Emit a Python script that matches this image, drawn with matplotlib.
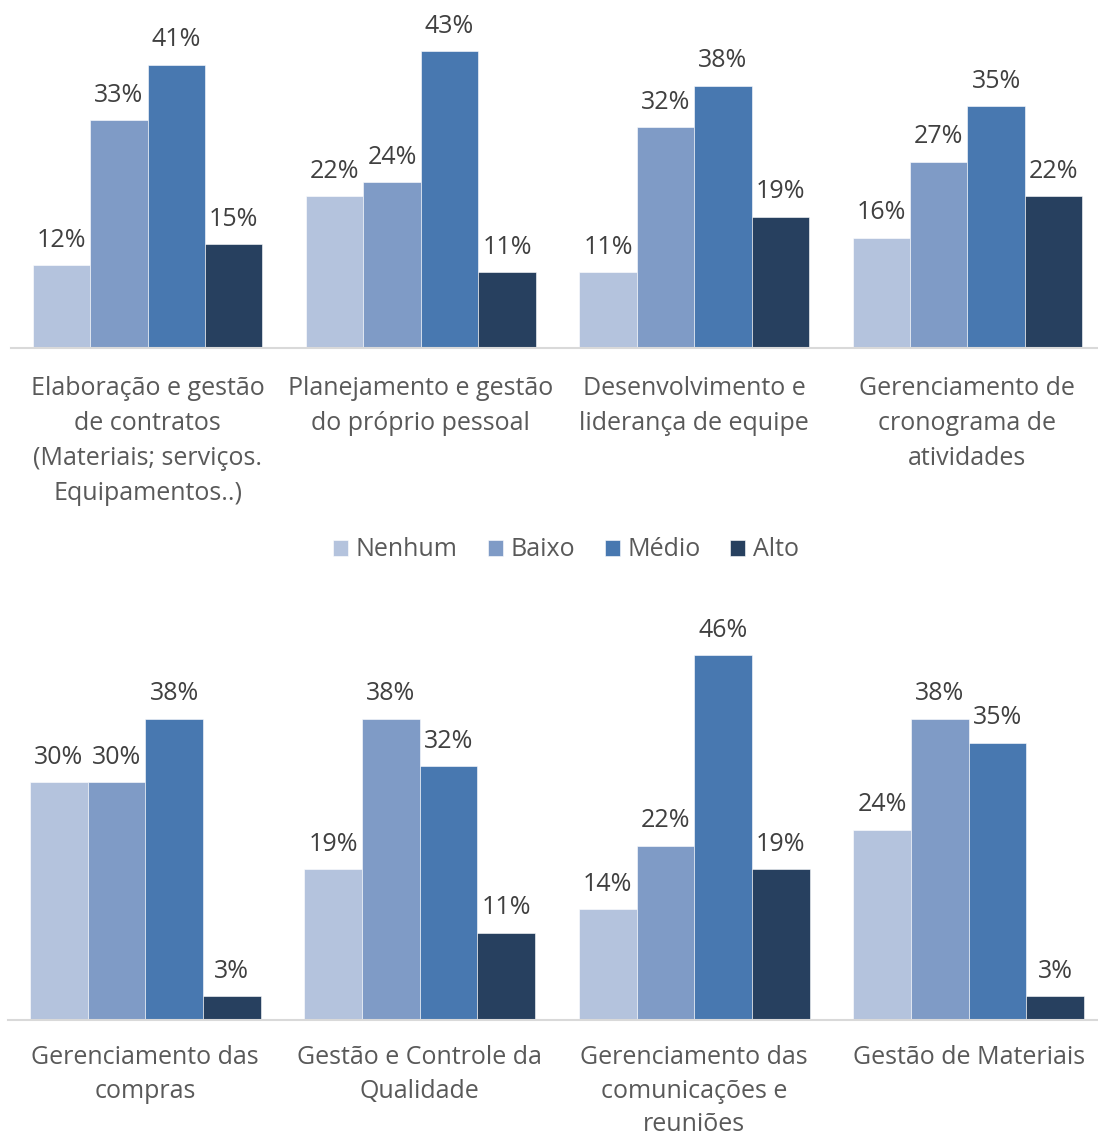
import numpy as np
import matplotlib.pyplot as plt

plt.rcParams['font.family'] = ['Open Sans', 'DejaVu Sans']

series = ['Nenhum', 'Baixo', 'Médio', 'Alto']
colors = ['#B4C3DD', '#7F9BC6', '#4878B0', '#27405F']

top_cats = ['Elaboração e gestão\nde contratos\n(Materiais; serviços.\nEquipamentos..)',
            'Planejamento e gestão\ndo próprio pessoal',
            'Desenvolvimento e\nliderança de equipe',
            'Gerenciamento de\ncronograma de\natividades']
top_nenhum = [12, 22, 11, 16]
top_baixo = [33, 24, 32, 27]
top_medio = [41, 43, 38, 35]
top_alto = [15, 11, 19, 22]

bot_cats = ['Gerenciamento das\ncompras',
            'Gestão e Controle da\nQualidade',
            'Gerenciamento das\ncomunicações e\nreuniões',
            'Gestão de Materiais']
bot_nenhum = [30, 19, 14, 24]
bot_baixo = [30, 38, 22, 38]
bot_medio = [38, 32, 46, 35]
bot_alto = [3, 11, 19, 3]

W, H = 1098, 1140
fig = plt.figure(figsize=(W / 100, H / 100), dpi=100)


def px_axes(left, top, right, bottom):
    return fig.add_axes([left / W, 1 - bottom / H, (right - left) / W, (bottom - top) / H])


def draw(ax, cats, data, ymax, spacing, pad):
    x = np.arange(len(cats))
    bw = 0.21
    for i, (vals, col) in enumerate(zip(data, colors)):
        bars = ax.bar(x + (i - 1.5) * bw, vals, bw, color=col, label=series[i],
                      edgecolor='white', linewidth=0.4)
        ax.bar_label(bars, labels=['{}%'.format(v) for v in vals], padding=9,
                     fontsize=18, color='#404040')
    ax.set_xlim(-0.5, len(cats) - 0.5)
    ax.set_ylim(0, ymax)
    ax.set_yticks([])
    ax.set_xticks(x)
    ax.set_xticklabels(cats, fontsize=18, color='#595959', linespacing=spacing)
    ax.tick_params(axis='x', length=0, pad=pad)
    for s in ['top', 'right', 'left']:
        ax.spines[s].set_visible(False)
    ax.spines['bottom'].set_color('#D9D9D9')
    ax.spines['bottom'].set_linewidth(1.5)


ax1 = px_axes(11, 0, 1104, 348)
draw(ax1, top_cats, [top_nenhum, top_baixo, top_medio, top_alto], 50.4, 1.53, 20)

ax2 = px_axes(8, 600, 1106, 1020)
draw(ax2, bot_cats, [bot_nenhum, bot_baixo, bot_medio, bot_alto], 53.0, 1.45, 18)

handles, labels = ax1.get_legend_handles_labels()
fig.legend(handles, labels, loc='center', bbox_to_anchor=(566 / W, 1 - 550 / H),
           ncol=4, frameon=False, fontsize=18, labelcolor='#595959',
           handlelength=0.6, handleheight=0.6, handletextpad=0.3, columnspacing=1.2)

fig.savefig('out.png', dpi=100)
